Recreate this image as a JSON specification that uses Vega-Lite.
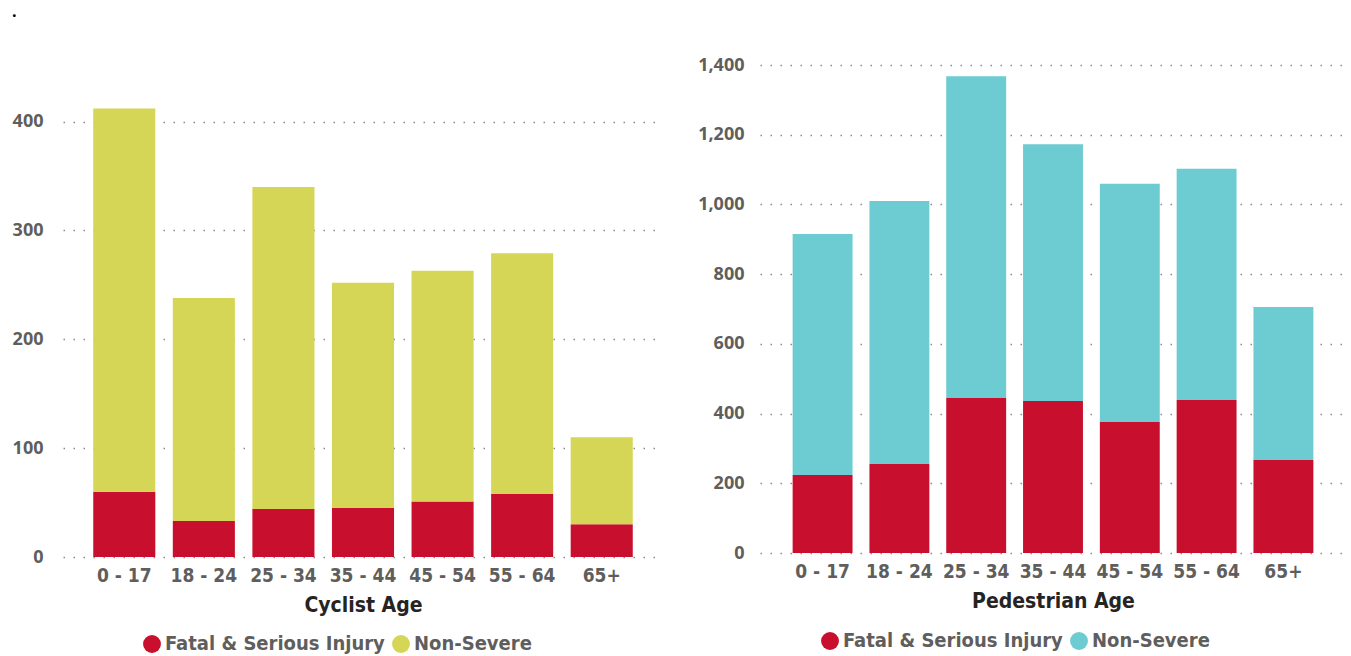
{
  "$schema": "https://vega.github.io/schema/vega-lite/v6.json",
  "background": "white",
  "padding": {"left": 12, "top": 4, "right": 0, "bottom": 0},
  "title": {"text": ".", "anchor": "start", "frame": "bounds", "fontSize": 16, "color": "#000000", "font": "Open Sans", "offset": 30, "dy": -6},
  "datasets": {
    "cyclist": [
      {"age": "0 - 17", "severity": "Fatal & Serious Injury", "count": 60},
      {"age": "0 - 17", "severity": "Non-Severe", "count": 352},
      {"age": "18 - 24", "severity": "Fatal & Serious Injury", "count": 33},
      {"age": "18 - 24", "severity": "Non-Severe", "count": 205},
      {"age": "25 - 34", "severity": "Fatal & Serious Injury", "count": 44},
      {"age": "25 - 34", "severity": "Non-Severe", "count": 296},
      {"age": "35 - 44", "severity": "Fatal & Serious Injury", "count": 45},
      {"age": "35 - 44", "severity": "Non-Severe", "count": 207},
      {"age": "45 - 54", "severity": "Fatal & Serious Injury", "count": 51},
      {"age": "45 - 54", "severity": "Non-Severe", "count": 212},
      {"age": "55 - 64", "severity": "Fatal & Serious Injury", "count": 58},
      {"age": "55 - 64", "severity": "Non-Severe", "count": 221},
      {"age": "65+", "severity": "Fatal & Serious Injury", "count": 30},
      {"age": "65+", "severity": "Non-Severe", "count": 80}
    ],
    "pedestrian": [
      {"age": "0 - 17", "severity": "Fatal & Serious Injury", "count": 224},
      {"age": "0 - 17", "severity": "Non-Severe", "count": 691},
      {"age": "18 - 24", "severity": "Fatal & Serious Injury", "count": 255},
      {"age": "18 - 24", "severity": "Non-Severe", "count": 755},
      {"age": "25 - 34", "severity": "Fatal & Serious Injury", "count": 445},
      {"age": "25 - 34", "severity": "Non-Severe", "count": 923},
      {"age": "35 - 44", "severity": "Fatal & Serious Injury", "count": 436},
      {"age": "35 - 44", "severity": "Non-Severe", "count": 737},
      {"age": "45 - 54", "severity": "Fatal & Serious Injury", "count": 376},
      {"age": "45 - 54", "severity": "Non-Severe", "count": 683},
      {"age": "55 - 64", "severity": "Fatal & Serious Injury", "count": 439},
      {"age": "55 - 64", "severity": "Non-Severe", "count": 663},
      {"age": "65+", "severity": "Fatal & Serious Injury", "count": 267},
      {"age": "65+", "severity": "Non-Severe", "count": 439}
    ]
  },
  "config": {
    "view": {"stroke": null},
    "axis": {
      "domain": false,
      "ticks": false,
      "labelFont": "Open Sans",
      "labelFontWeight": "bold",
      "labelFontSize": 18,
      "labelColor": "#605E5C",
      "titleFont": "DejaVu Sans Condensed",
      "titleFontWeight": "bold",
      "titleFontSize": 21,
      "titleColor": "#252423"
    },
    "axisY": {
      "gridColor": "#8a8a8a",
      "gridDash": [1.5, 8.5],
      "gridWidth": 1.5,
      "labelPadding": 16
    },
    "axisX": {"labelPadding": 9, "titlePadding": 9, "labelAngle": 0, "labelFont": "DejaVu Sans Condensed", "labelFontSize": 19},
    "legend": {
      "labelFont": "DejaVu Sans Condensed",
      "labelFontWeight": "bold",
      "labelFontSize": 20,
      "labelColor": "#605E5C",
      "labelLimit": 400,
      "symbolType": "circle",
      "symbolSize": 320,
      "symbolStrokeWidth": 0,
      "columnPadding": 6,
      "labelOffset": 3,
      "orient": "none",
      "direction": "horizontal",
      "title": null
    }
  },
  "spacing": 34,
  "resolve": {"scale": {"color": "independent", "y": "independent"}},
  "hconcat": [
    {
      "data": {"name": "cyclist"},
      "width": 600,
      "height": 492,
      "mark": {"type": "bar"},
      "encoding": {
        "x": {"field": "age", "type": "nominal", "title": "Cyclist Age",
              "scale": {"paddingInner": 0.22, "paddingOuter": 0.38},
              "axis": {"grid": false}},
        "y": {"field": "count", "type": "quantitative", "stack": "zero",
              "scale": {"domain": [0, 452], "nice": false},
              "axis": {"title": null, "values": [0, 100, 200, 300, 400], "grid": true, "labelPadding": 20}},
        "color": {"field": "severity", "type": "nominal",
                  "scale": {"domain": ["Fatal & Serious Injury", "Non-Severe"], "range": ["#C8102E", "#D5D655"]},
                  "legend": {"legendX": 79, "legendY": 569}},
        "order": {"field": "severity", "sort": "ascending"}
      }
    },
    {
      "data": {"name": "pedestrian"},
      "width": 586,
      "height": 488,
      "mark": {"type": "bar"},
      "encoding": {
        "x": {"field": "age", "type": "nominal", "title": "Pedestrian Age",
              "scale": {"paddingInner": 0.22, "paddingOuter": 0.425},
              "axis": {"grid": false}},
        "y": {"field": "count", "type": "quantitative", "stack": "zero",
              "scale": {"domain": [0, 1400], "nice": false},
              "axis": {"title": null, "values": [0, 200, 400, 600, 800, 1000, 1200, 1400], "format": ",d", "grid": true}},
        "color": {"field": "severity", "type": "nominal",
                  "scale": {"domain": ["Fatal & Serious Injury", "Non-Severe"], "range": ["#C8102E", "#6DCBD2"]},
                  "legend": {"legendX": 60, "legendY": 566}},
        "order": {"field": "severity", "sort": "ascending"}
      }
    }
  ]
}
